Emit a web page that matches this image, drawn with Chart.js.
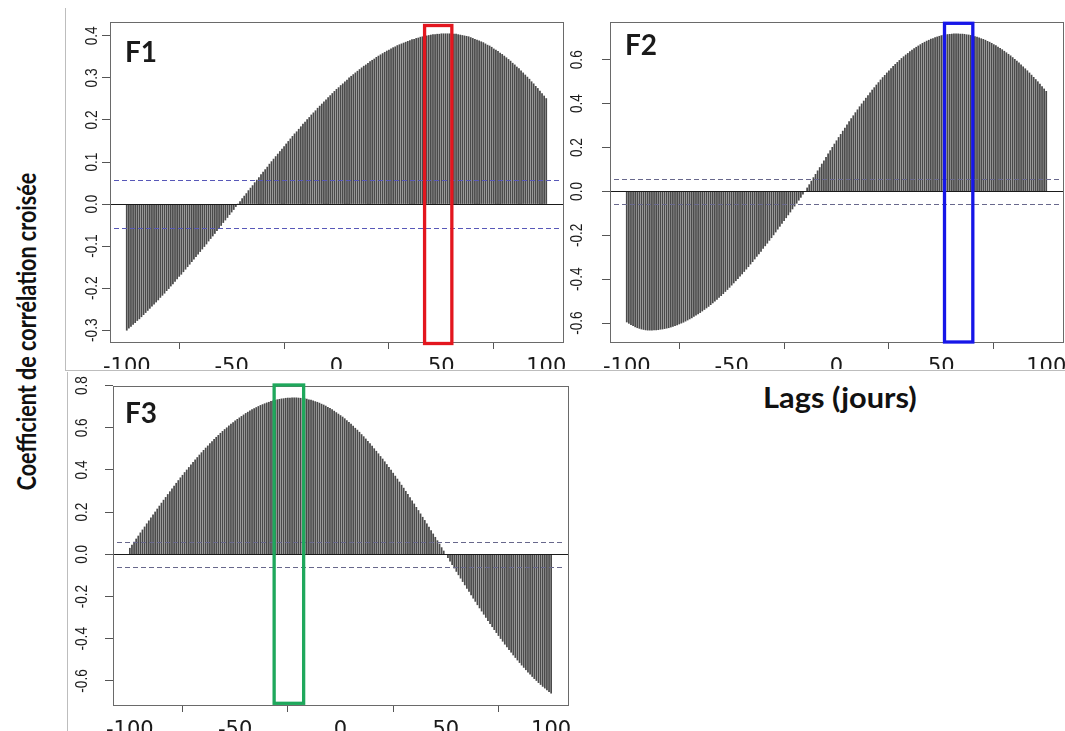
<!DOCTYPE html>
<html>
<head>
<meta charset="utf-8">
<script src="https://cdn.jsdelivr.net/npm/chart.js@4.4.1/dist/chart.umd.min.js"></script>
<style>
  body { margin: 0; background: #fff; width: 1065px; height: 731px; overflow: hidden; position: relative; }
  canvas { position: absolute; }
  .frame { position: absolute; background: #bdbdbd; }
  .title { position: absolute; font-family: Lato, 'Open Sans', sans-serif; font-weight: 700; color: #111; white-space: nowrap; line-height: 1; }
</style>
</head>
<body>
<div class="frame" style="left:65px;top:8px;width:1px;height:362px"></div>
<div class="frame" style="left:65px;top:370px;width:1000px;height:1px"></div>
<div class="frame" style="left:67px;top:372px;width:1px;height:359px"></div>

<canvas id="f1" width="508" height="359" style="left:60px;top:10px"></canvas>
<canvas id="f2" width="500" height="359" style="left:565px;top:10px"></canvas>
<canvas id="f3" width="505" height="357" style="left:68px;top:374px"></canvas>

<div id="ytitle" class="title" style="font-size:27px">Coefficient de corrélation croisée</div>
<div id="xtitle" class="title" style="font-size:28px">Lags (jours)</div>

<script>
/* ====== CROSS-CORRELATION PANELS ====== */

const lags = Array.from({ length: 201 }, (_, i) => i - 100)
const lagTicks = [-100, -50, 0, 50, 100]

const ccfF1 = [
  -.300, -.295, -.291, -.286, -.282, -.277, -.273, -.268, -.263, -.258,
  -.253, -.248, -.243, -.238, -.233, -.228, -.222, -.217, -.212, -.206,
  -.201, -.195, -.190, -.184, -.178, -.172, -.167, -.161, -.155, -.149,
  -.143, -.137, -.131, -.125, -.119, -.113, -.107, -.101, -.095, -.088,
  -.082, -.076, -.070, -.063, -.057, -.051, -.044, -.038, -.032, -.025,
  -.019, -.013, -.006, 0, .006, .013, .019, .025, .032, .038,
  .044, .051, .057, .063, .070, .076, .082, .088, .095, .101,
  .107, .113, .119, .125, .131, .137, .143, .149, .155, .161,
  .167, .172, .178, .184, .190, .195, .201, .206, .212, .217,
  .222, .228, .233, .238, .243, .248, .253, .258, .263, .268,
  .273, .277, .282, .286, .291, .295, .300, .304, .308, .312,
  .316, .320, .324, .328, .331, .335, .339, .342, .345, .349,
  .352, .355, .358, .361, .364, .366, .369, .372, .374, .377,
  .379, .381, .383, .385, .387, .389, .391, .392, .394, .395,
  .397, .398, .399, .400, .401, .402, .403, .403, .404, .404,
  .405, .405, .405, .405, .405, .405, .404, .404, .403, .402,
  .401, .400, .399, .398, .396, .394, .392, .390, .388, .386,
  .384, .381, .378, .376, .373, .369, .366, .363, .359, .356,
  .352, .348, .344, .340, .335, .331, .326, .322, .317, .312,
  .307, .302, .297, .291, .286, .280, .275, .269, .263, .257,
  .251
]

const ccfF2 = [
  -.595, -.601, -.607, -.612, -.617, -.621, -.624, -.627, -.629, -.631,
  -.632, -.632, -.632, -.631, -.631, -.630, -.628, -.627, -.625, -.623,
  -.621, -.618, -.615, -.612, -.608, -.604, -.600, -.596, -.591, -.586,
  -.581, -.576, -.570, -.564, -.558, -.552, -.545, -.538, -.531, -.524,
  -.516, -.508, -.500, -.492, -.483, -.475, -.466, -.456, -.447, -.437,
  -.427, -.417, -.407, -.397, -.386, -.376, -.365, -.354, -.343, -.331,
  -.320, -.308, -.296, -.285, -.273, -.260, -.248, -.236, -.223, -.211,
  -.198, -.185, -.172, -.159, -.146, -.133, -.120, -.107, -.094, -.080,
  -.067, -.054, -.040, -.027, -.013, 0, .016, .031, .047, .063,
  .078, .094, .109, .125, .140, .155, .171, .186, .201, .216,
  .231, .246, .260, .275, .289, .303, .318, .332, .345, .359,
  .372, .386, .399, .412, .425, .437, .449, .462, .473, .485,
  .496, .508, .519, .529, .540, .550, .560, .570, .579, .588,
  .597, .606, .614, .622, .629, .637, .644, .651, .657, .663,
  .669, .675, .680, .685, .689, .694, .697, .701, .704, .707,
  .710, .712, .714, .715, .716, .717, .718, .718, .718, .717,
  .717, .716, .714, .713, .711, .708, .706, .703, .700, .696,
  .693, .689, .684, .680, .675, .669, .664, .658, .652, .646,
  .639, .632, .625, .618, .610, .602, .594, .586, .577, .568,
  .559, .550, .540, .530, .520, .510, .500, .489, .478, .467,
  .456
]

const ccfF3 = [
  .029, .044, .058, .073, .087, .102, .116, .130, .145, .159,
  .173, .187, .201, .215, .229, .243, .257, .270, .284, .297,
  .311, .324, .337, .350, .363, .375, .388, .400, .412, .424,
  .436, .448, .459, .471, .482, .493, .504, .514, .525, .535,
  .545, .555, .564, .574, .583, .592, .600, .609, .617, .625,
  .633, .640, .647, .654, .661, .668, .674, .680, .686, .691,
  .696, .701, .706, .710, .714, .718, .721, .725, .728, .730,
  .733, .735, .737, .738, .740, .741, .741, .742, .742, .742,
  .741, .740, .739, .738, .736, .733, .731, .728, .724, .721,
  .717, .712, .708, .703, .697, .692, .686, .679, .672, .665,
  .658, .651, .643, .634, .626, .617, .608, .598, .589, .579,
  .568, .558, .547, .536, .525, .513, .501, .489, .477, .464,
  .452, .439, .426, .412, .399, .385, .371, .357, .343, .328,
  .314, .299, .284, .269, .254, .239, .223, .208, .192, .176,
  .161, .145, .129, .113, .097, .081, .065, .049, .032, .016,
  0, -.016, -.032, -.049, -.065, -.081, -.097, -.113, -.129, -.145,
  -.161, -.176, -.192, -.208, -.223, -.239, -.254, -.269, -.284, -.299,
  -.314, -.328, -.343, -.357, -.371, -.385, -.399, -.412, -.426, -.439,
  -.452, -.464, -.477, -.489, -.501, -.513, -.525, -.536, -.547, -.558,
  -.568, -.579, -.589, -.598, -.608, -.617, -.626, -.634, -.643, -.651,
  -.658
]

const yTicksF1 = [-0.3, -0.2, -0.1, 0, 0.1, 0.2, 0.3, 0.4]
const yTicksF2 = [-0.6, -0.4, -0.2, 0, 0.2, 0.4, 0.6]
const yTicksF3 = [-0.6, -0.4, -0.2, 0, 0.2, 0.4, 0.6, 0.8]

// 95% confidence bounds (dashed) and highlighted lag windows
const ciBounds = [0.058, -0.058]
const hlF1 = [42, 55]
const hlF2 = [51.5, 65]
const hlF3 = [-31.5, -17.5]

const rPlot = {
  id: 'rPlot',
  afterDatasetsDraw(chart, args, o) {
    const { ctx, chartArea: a, scales: { x, y } } = chart
    ctx.save()
    ctx.lineWidth = 1

    const y0 = Math.round(y.getPixelForValue(0)) + 0.5
    ctx.strokeStyle = '#1a1a1a'
    ctx.beginPath(); ctx.moveTo(a.left, y0); ctx.lineTo(a.right, y0); ctx.stroke()

    ctx.setLineDash([5, 3]); ctx.strokeStyle = o.ciColor
    ciBounds.forEach(v => {
      const py = Math.round(y.getPixelForValue(v)) + 0.5
      ctx.beginPath(); ctx.moveTo(a.left + 4, py); ctx.lineTo(a.right - 4, py); ctx.stroke()
    })
    ctx.setLineDash([])

    ctx.strokeStyle = '#6a6a6a'
    ctx.strokeRect(Math.round(a.left) + 0.5, Math.round(a.top) + 0.5, Math.round(a.right - a.left), Math.round(a.bottom - a.top))

    const hx1 = x.getPixelForValue(o.hl[0]), hx2 = x.getPixelForValue(o.hl[1])
    ctx.strokeStyle = o.hlColor; ctx.lineWidth = 3.3
    ctx.strokeRect(hx1, a.top + o.hlTop, hx2 - hx1, a.bottom - a.top + o.hlBottom - o.hlTop)

    ctx.fillStyle = '#1a1a1a'
    ctx.font = '21px "DejaVu Sans"'
    ctx.textAlign = 'center'; ctx.textBaseline = 'top'
    x.ticks.forEach(t => ctx.fillText(String(t.value), x.getPixelForValue(t.value), a.bottom + 15))

    ctx.font = '16px "Liberation Sans"'
    ctx.textBaseline = 'alphabetic'
    y.ticks.forEach(t => {
      ctx.save()
      ctx.translate(a.left - o.yGap, y.getPixelForValue(t.value))
      ctx.rotate(-Math.PI / 2)
      ctx.scale(0.85, 1)
      ctx.fillText(t.value.toFixed(1), 0, 0)
      ctx.restore()
    })

    ctx.font = '700 28px Lato'
    ctx.textAlign = 'left'
    ctx.fillText(o.tag, a.left + o.tagX, a.top + o.tagY)
    ctx.restore()
  }
}

function makePanel(id, values, yTicks, yMin, yMax, box, deco) {
  const ticksOf = arr => s => { s.ticks = arr.map(v => ({ value: v })) }
  return new Chart(document.getElementById(id), {
    type: 'bar',
    data: {
      datasets: [{
        data: lags.map((l, i) => ({ x: l, y: values[i] })),
        backgroundColor: '#4a4a4a',
        barThickness: 1.1,
        borderWidth: 0
      }]
    },
    options: {
      responsive: false, animation: false, events: [],
      devicePixelRatio: 1,
      layout: { padding: { left: 0, top: box.top, right: box.right, bottom: 0 } },
      scales: {
        x: {
          type: 'linear', min: -108, max: 108, offset: false,
          afterBuildTicks: ticksOf(lagTicks),
          afterFit: s => { s.height = box.bottom },
          ticks: { display: false },
          grid: { drawOnChartArea: false, drawTicks: true, tickLength: 7, color: '#555' },
          border: { display: false }
        },
        y: {
          min: yMin, max: yMax,
          afterBuildTicks: ticksOf(yTicks),
          afterFit: s => { s.width = box.left },
          ticks: { display: false },
          grid: { drawOnChartArea: false, drawTicks: true, tickLength: 8, color: '#555' },
          border: { display: false }
        }
      },
      plugins: { legend: { display: false }, tooltip: { enabled: false }, rPlot: deco }
    },
    plugins: [rPlot]
  })
}

makePanel('f1', ccfF1, yTicksF1, -0.328, 0.433,
  { left: 50, top: 12, right: 5, bottom: 27 },
  { tag: 'F1', tagX: 15, tagY: 40, yGap: 13, ciColor: '#5858b8', hl: hlF1, hlColor: '#e3161e', hlTop: 3.5, hlBottom: 1.5 })

makePanel('f2', ccfF2, yTicksF2, -0.686, 0.772,
  { left: 45, top: 12, right: 2, bottom: 27 },
  { tag: 'F2', tagX: 15, tagY: 33, yGap: 28, ciColor: '#68688c', hl: hlF2, hlColor: '#1616e8', hlTop: 1.3, hlBottom: 0 })

makePanel('f3', ccfF3, yTicksF3, -0.714, 0.798,
  { left: 45, top: 12, right: 5, bottom: 26 },
  { tag: 'F3', tagX: 12, tagY: 37, yGap: 26, ciColor: '#68688c', hl: hlF3, hlColor: '#1fa85c', hlTop: -1, hlBottom: -1.7 })

function placeTitle(id, cx, cy, len, rot) {
  const el = document.getElementById(id)
  const w = el.offsetWidth, h = el.offsetHeight
  el.style.left = (cx - w / 2) + 'px'
  el.style.top = (cy - h / 2) + 'px'
  el.style.transform = (rot ? 'rotate(-90deg) ' : '') + 'scaleX(' + (len / w) + ')'
}
placeTitle('ytitle', 26, 331, 318, true)
placeTitle('xtitle', 840, 397, 154, false)
</script>
</body>
</html>
